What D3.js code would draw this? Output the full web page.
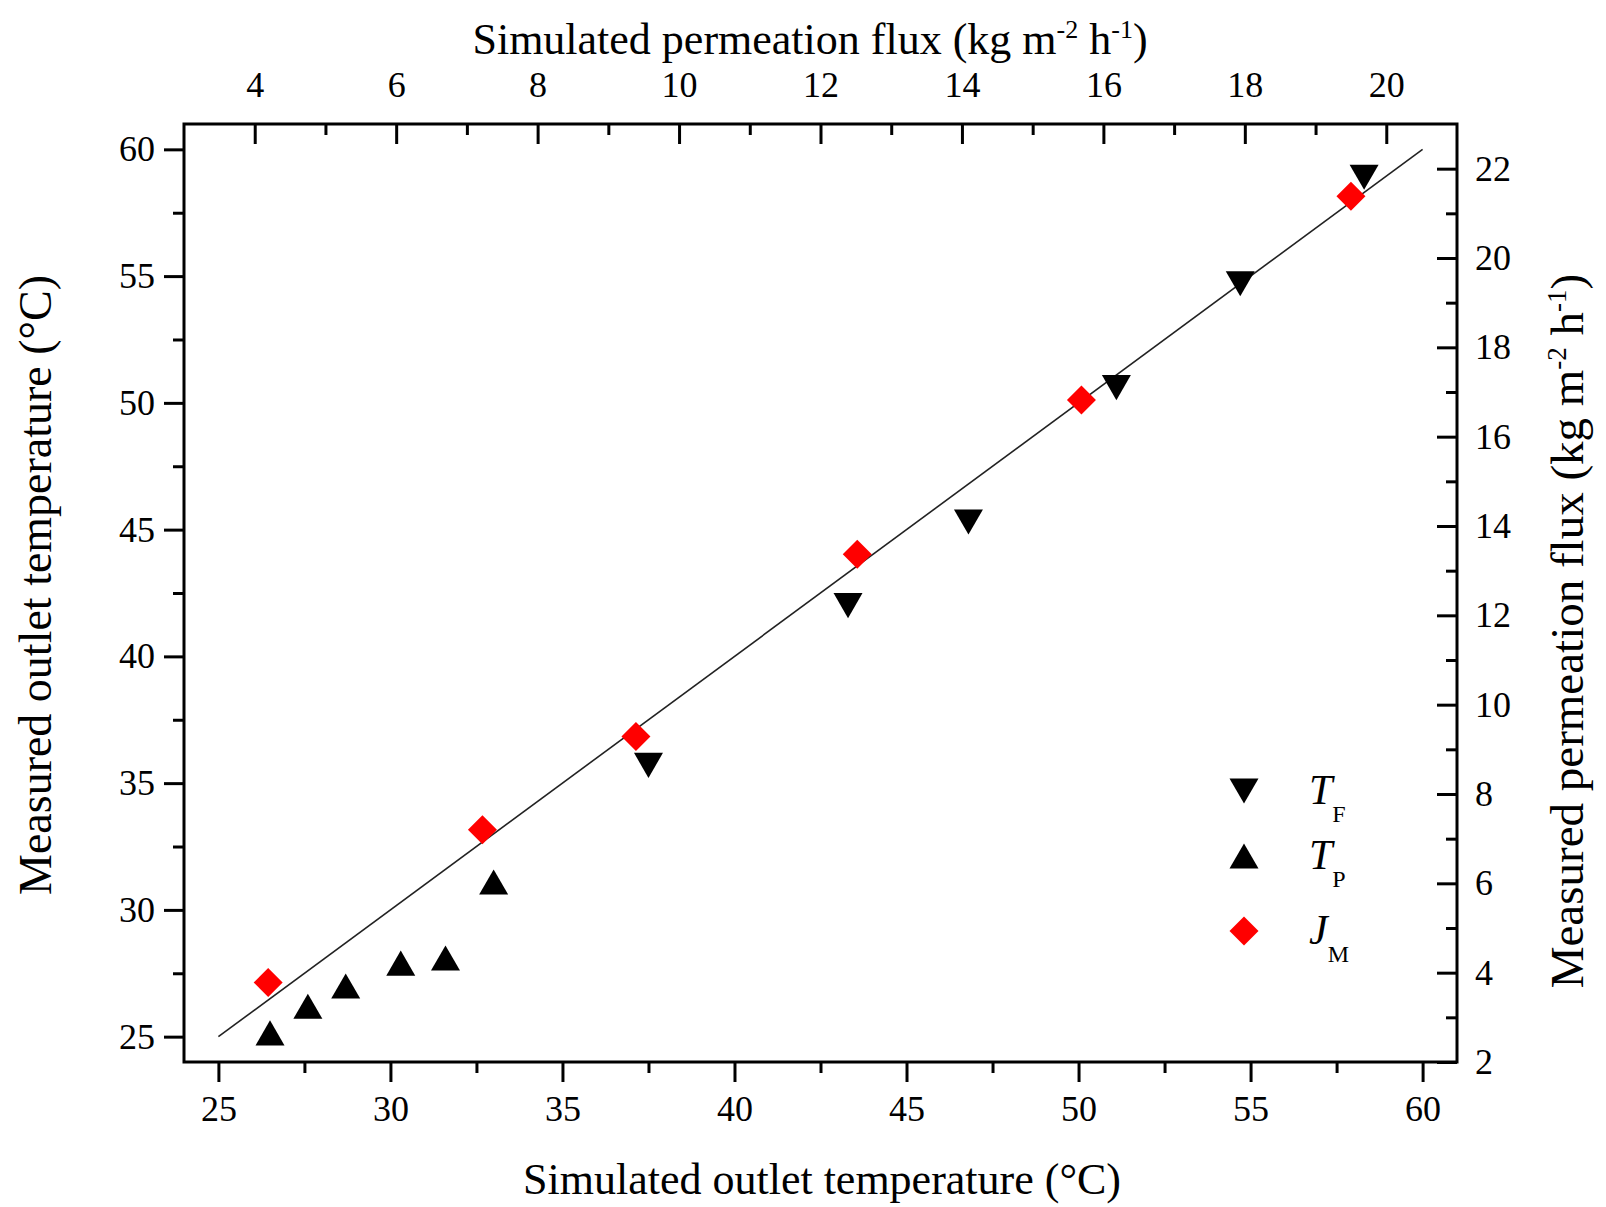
<!DOCTYPE html>
<html>
<head>
<meta charset="utf-8">
<script src="https://cdn.jsdelivr.net/npm/d3@7"></script>
<style>
  body { margin: 0; background: #fff; }
  svg { display: block; font-family: "Liberation Serif", "Times New Roman", serif; }
  svg text { font-family: "Liberation Serif", "Times New Roman", serif; }
</style>
</head>
<body>
<svg id="chart" width="1606" height="1207"></svg>
<script>
// Feed-side outlet temperature T_F: simulated vs measured (°C)
const feedSim  = [37.5, 43.3, 46.8, 51.1, 54.7, 58.3];
const feedMeas = [35.7, 42.0, 45.3, 50.6, 54.7, 58.9];
// Permeate-side outlet temperature T_P: simulated vs measured (°C)
const permSim  = [26.5, 27.6, 28.7, 30.3, 31.6, 33.0];
const permMeas = [25.15, 26.2, 27.0, 27.9, 28.1, 31.1];
// Permeation flux J_M: simulated vs measured (kg m-2 h-1)
const fluxSim  = [4.19, 7.22, 9.39, 12.52, 15.69, 19.50];
const fluxMeas = [3.78, 7.20, 9.29, 13.37, 16.82, 21.38];
// Parity line (measured = simulated), in °C
const parity = [25, 60];

// Tick values
const tempTicks  = [25, 30, 35, 40, 45, 50, 55, 60];
const tempMinor  = [27.5, 32.5, 37.5, 42.5, 47.5, 52.5, 57.5];
const topTicks   = [4, 6, 8, 10, 12, 14, 16, 18, 20];
const topMinor   = [5, 7, 9, 11, 13, 15, 17, 19];
const rightTicks = [2, 4, 6, 8, 10, 12, 14, 16, 18, 20, 22];
const rightMinor = [3, 5, 7, 9, 11, 13, 15, 17, 19, 21];

const L = 184, R = 1457, T = 124, B = 1062;
const FONT = '"Liberation Serif", "Times New Roman", serif';
const svg = d3.select("#chart");

const x  = d3.scaleLinear().domain([24, 61]).range([L, R]);
const y  = d3.scaleLinear().domain([24, 61]).range([B, T]);
const xt = d3.scaleLinear().domain([3, 21]).range([L, R]);
const yr = d3.scaleLinear().domain([2, 23]).range([B, T]);

const MAJ = 20, MIN = 11, TICK_W = 3;
const tickFont = 36;

function styleAxis(g) {
  g.attr("font-family", FONT).attr("font-size", tickFont);
  g.select(".domain").remove();
  g.selectAll(".tick line").attr("stroke", "#000").attr("stroke-width", TICK_W);
  g.selectAll(".tick text")
    .attr("fill", "#000")
    .attr("font-family", FONT)
    .attr("font-size", tickFont);
}

// bottom axis (outward ticks)
svg.append("g").attr("transform", `translate(0,${B})`)
  .call(d3.axisBottom(x).tickValues(tempTicks).tickSize(MAJ).tickPadding(13).tickFormat(d3.format("d")))
  .call(styleAxis);
svg.append("g").attr("transform", `translate(0,${B})`)
  .call(d3.axisBottom(x).tickValues(tempMinor).tickSize(MIN).tickFormat(""))
  .call(styleAxis);

// left axis (outward ticks)
svg.append("g").attr("transform", `translate(${L},0)`)
  .call(d3.axisLeft(y).tickValues(tempTicks).tickSize(MAJ).tickPadding(9).tickFormat(d3.format("d")))
  .call(styleAxis);
svg.append("g").attr("transform", `translate(${L},0)`)
  .call(d3.axisLeft(y).tickValues(tempMinor).tickSize(MIN).tickFormat(""))
  .call(styleAxis);

// top axis (inward ticks)
svg.append("g").attr("transform", `translate(0,${T})`)
  .call(d3.axisTop(xt).tickValues(topTicks).tickSize(-MAJ).tickPadding(27).tickFormat(d3.format("d")))
  .call(styleAxis);
svg.append("g").attr("transform", `translate(0,${T})`)
  .call(d3.axisTop(xt).tickValues(topMinor).tickSize(-MIN).tickFormat(""))
  .call(styleAxis);

// right axis (inward ticks)
svg.append("g").attr("transform", `translate(${R},0)`)
  .call(d3.axisRight(yr).tickValues(rightTicks).tickSize(-MAJ).tickPadding(18).tickFormat(d3.format("d")))
  .call(styleAxis);
svg.append("g").attr("transform", `translate(${R},0)`)
  .call(d3.axisRight(yr).tickValues(rightMinor).tickSize(-MIN).tickFormat(""))
  .call(styleAxis);

// frame
svg.append("rect")
  .attr("x", L).attr("y", T).attr("width", R - L).attr("height", B - T)
  .attr("fill", "none").attr("stroke", "#000").attr("stroke-width", 3);

// parity line
svg.append("line")
  .attr("x1", x(parity[0])).attr("y1", y(parity[0]))
  .attr("x2", x(parity[1])).attr("y2", y(parity[1]))
  .attr("stroke", "#222").attr("stroke-width", 1.6);

// marker shapes
const SIDE = 29;
const TRI_H = SIDE * Math.sqrt(3) / 2;
function triDown(cx, cy) {
  return `M${cx - SIDE / 2},${cy - TRI_H / 2}L${cx + SIDE / 2},${cy - TRI_H / 2}L${cx},${cy + TRI_H / 2}Z`;
}
function triUp(cx, cy) {
  return `M${cx - SIDE / 2},${cy + TRI_H / 2}L${cx + SIDE / 2},${cy + TRI_H / 2}L${cx},${cy - TRI_H / 2}Z`;
}
const DH = 14.5;
function diamond(cx, cy) {
  return `M${cx},${cy - DH}L${cx + DH},${cy}L${cx},${cy + DH}L${cx - DH},${cy}Z`;
}

const marks = svg.append("g");
marks.selectAll("path.tf").data(feedSim.map((v, i) => [v, feedMeas[i]]))
  .join("path").attr("class", "tf")
  .attr("d", d => triDown(x(d[0]), y(d[1]))).attr("fill", "#000");
marks.selectAll("path.tp").data(permSim.map((v, i) => [v, permMeas[i]]))
  .join("path").attr("class", "tp")
  .attr("d", d => triUp(x(d[0]), y(d[1]))).attr("fill", "#000");
marks.selectAll("path.jm").data(fluxSim.map((v, i) => [v, fluxMeas[i]]))
  .join("path").attr("class", "jm")
  .attr("d", d => diamond(xt(d[0]), yr(d[1]))).attr("fill", "#ff0000");

// legend
const legendItems = [
  { sym: triDown, fill: "#000", main: "T", sub: "F", y: 791 },
  { sym: triUp,   fill: "#000", main: "T", sub: "P", y: 856 },
  { sym: diamond, fill: "#ff0000", main: "J", sub: "M", y: 931 }
];
const lg = svg.append("g");
legendItems.forEach(it => {
  lg.append("path").attr("d", it.sym(1244, it.y)).attr("fill", it.fill);
  const t = lg.append("text").attr("x", 1309).attr("y", it.y + 13)
    .style("font-size", "42px").attr("fill", "#000");
  t.append("tspan").style("font-style", "italic").text(it.main);
  t.append("tspan").attr("dy", 18).attr("dx", 0).style("font-size", "24px").text(it.sub);
});

// axis titles
const titleFont = 44;
svg.append("text")
  .attr("x", 822).attr("y", 1194).attr("text-anchor", "middle")
  .style("font-size", titleFont + "px").text("Simulated outlet temperature (°C)");

const topTitle = svg.append("text")
  .attr("x", 810).attr("y", 54).attr("text-anchor", "middle")
  .style("font-size", titleFont + "px");
topTitle.append("tspan").text("Simulated permeation flux (kg m");
topTitle.append("tspan").attr("dy", -16).style("font-size", "26px").text("-2");
topTitle.append("tspan").attr("dy", 16).text(" h");
topTitle.append("tspan").attr("dy", -16).style("font-size", "26px").text("-1");
topTitle.append("tspan").attr("dy", 16).text(")");

svg.append("text")
  .attr("transform", "translate(51,585) rotate(-90)").attr("text-anchor", "middle")
  .style("font-size", "46px").text("Measured outlet temperature (°C)");

const rightTitle = svg.append("text")
  .attr("transform", "translate(1583,631) rotate(-90)").attr("text-anchor", "middle")
  .style("font-size", "47px");
rightTitle.append("tspan").text("Measured permeation flux (kg m");
rightTitle.append("tspan").attr("dy", -17).style("font-size", "27px").text("-2");
rightTitle.append("tspan").attr("dy", 17).text(" h");
rightTitle.append("tspan").attr("dy", -17).style("font-size", "27px").text("-1");
rightTitle.append("tspan").attr("dy", 17).text(")");
</script>
</body>
</html>
